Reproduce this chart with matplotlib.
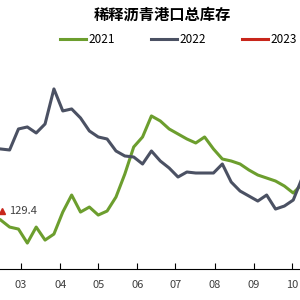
import pandas as pd
import numpy as np
import matplotlib.pyplot as plt
import matplotlib.dates as mdates

plt.rcParams['font.family'] = ['Noto Sans CJK SC', 'DejaVu Sans']

# weekly points, all years laid on one calendar (dummy year 2022)
weeks = pd.date_range('2022-02-13', periods=35, freq='7D')

y2021 = [120, 113, 111, 97, 113, 100, 106, 128, 145, 128, 133, 125, 129, 143, 166,
         193, 203, 224, 219, 211, 206, 201, 197, 203, 191, 181, 179, 176, 170, 165,
         162, 159, 154, 147, 156]
y2022 = [191, 190, 211, 213, 207, 216, 251, 229, 231, 222, 209, 203, 201, 189, 184,
         183, 176, 189, 179, 172, 163, 168, 167, 167, 167, 176, 158, 149, 144, 139,
         145, 131, 134, 140, 162]
date2023 = [pd.Timestamp('2022-02-14')]
y2023 = [129.4]

c21 = '#6C9E2E'
c22 = '#4B5163'
c23 = '#C8261B'

fig = plt.figure(figsize=(3, 3), dpi=100)
ax = fig.add_axes([0, 0.103, 1, 0.714])

ax.plot(weeks, y2021, color=c21, lw=2.2, label='2021')
ax.plot(weeks, y2022, color=c22, lw=2.2, label='2022')
ax.plot(date2023, y2023, color=c23, lw=2.2, label='2023')
ax.plot(date2023, y2023, color=c23, marker='^', ms=5, ls='none')
ax.annotate('129.4', (date2023[0], y2023[0]), xytext=(5, 0), textcoords='offset points',
            va='center', ha='left', fontsize=8, color='#404040')

ax.set_xlim(pd.Timestamp('2022-02-12 10:00'), pd.Timestamp('2022-10-07 08:00'))
ax.set_ylim(71, 285)
ax.xaxis.set_major_locator(mdates.MonthLocator())
ax.xaxis.set_major_formatter(mdates.DateFormatter('%m'))
ax.tick_params(axis='x', direction='in', length=4, labelsize=8, labelcolor='#404040', pad=8)
ax.set_yticks([])
for s in ['left', 'right', 'top']:
    ax.spines[s].set_visible(False)
ax.spines['bottom'].set_color('#000000')

fig.text(0.54, 0.95, '稀释沥青港口总库存', ha='center', va='center', fontsize=11,
         fontweight='bold', color='#000000')
fig.legend(loc='center', bbox_to_anchor=(0.595, 0.867), ncol=3, frameon=False,
           fontsize=8.5, handlelength=2.2, handletextpad=0.25, columnspacing=3.0)

plt.savefig('out.png', dpi=100)
